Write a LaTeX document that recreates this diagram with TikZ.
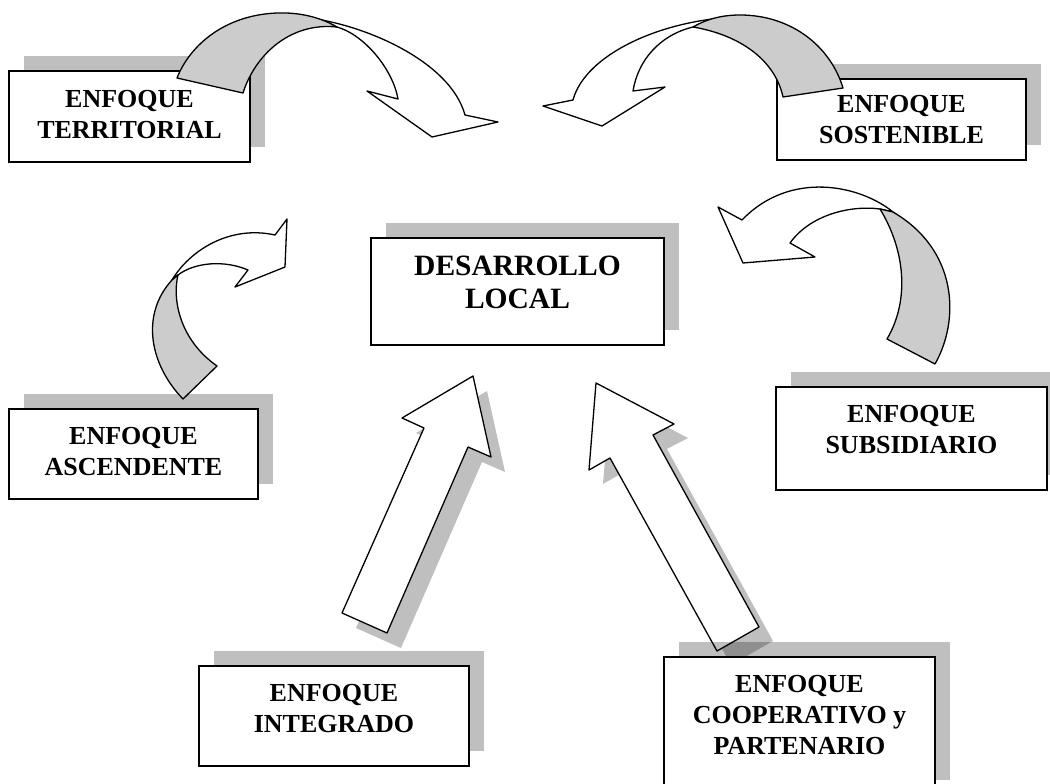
\documentclass[tikz,border=0pt]{standalone}
\usepackage{fontspec}
\setmainfont{Liberation Serif}
\usetikzlibrary{shadows}

\begin{document}
\begin{tikzpicture}[x=1pt,y=-1pt,
	caja/.style={draw,fill=white,line width=1.5pt,align=center,
		font=\fontsize{26}{31}\selectfont\bfseries,
		drop shadow={shadow xshift=15pt,shadow yshift=15pt,fill=black,opacity=.25}},
	sombra/.style={fill=black,opacity=.25},
	cara/.style={draw,fill=white,line width=1.3pt,line join=round},
	dorso/.style={draw,fill=gray!40,line width=1.3pt,line join=round}]
	\useasboundingbox (0,0) rectangle (1050,784);
	\clip (0,0) rectangle (1050,784);
	% flechas rectas
	\fill [sombra,shift={(14,15)}] (342,613) -- (424,428) -- (402,418) -- (473,376) -- (491,457) -- (468,447) -- (387,633) -- cycle;
	\draw [cara] (342,613) -- (424,428) -- (402,418) -- (473,376) -- (491,457) -- (468,447) -- (387,633) -- cycle;
	\fill [sombra,shift={(14,14)}] (717,651) -- (610,458) -- (589,470) -- (596,383) -- (674,424) -- (653,435) -- (759,627) -- cycle;
	\draw [cara] (717,651) -- (610,458) -- (589,470) -- (596,383) -- (674,424) -- (653,435) -- (759,627) -- cycle;
	% cajas
	\node [caja,minimum width=241pt,minimum height=91pt,text depth=5pt] (terr) at (129.5,116.5) {ENFOQUE\\TERRITORIAL};
	\node [caja,minimum width=249pt,minimum height=81pt] (sost) at (901.5,119.5) {ENFOQUE\\SOSTENIBLE};
	\node [caja,minimum width=293pt,minimum height=107pt,text depth=18pt,font=\fontsize{29.5}{33}\selectfont\bfseries] (desa) at (517.5,291.5) {DESARROLLO\\LOCAL};
	\node [caja,minimum width=249pt,minimum height=90pt,text depth=6pt] (asce) at (133.5,454) {ENFOQUE\\ASCENDENTE};
	\node [caja,minimum width=271pt,minimum height=103pt,text depth=18pt] (subs) at (911.5,438.5) {ENFOQUE\\SUBSIDIARIO};
	\node [caja,minimum width=270pt,minimum height=100pt,text depth=16pt] (inte) at (334,716) {ENFOQUE\\INTEGRADO};
	\node [caja,minimum width=271pt,minimum height=138pt,text depth=22pt] (coop) at (799.5,726) {ENFOQUE\\COOPERATIVO y\\PARTENARIO};
	% flechas curvas
	\draw [cara] (300,17) .. controls (360,22) and (450,60) .. (465,115) -- (498,122) -- (432,137) -- (367,91) -- (398,99) .. controls (393,70) and (365,35) .. (337,27) -- cycle;
	\draw [dorso] (177,78) .. controls (190,45) and (225,15) .. (277,13) .. controls (305,12) and (325,20) .. (337,27) .. controls (290,22) and (255,55) .. (243,93) -- cycle;
	\draw [cara] (737,17) .. controls (660,20) and (585,55) .. (573,100) -- (543,106) -- (602,126) -- (665,87) -- (633,91) .. controls (638,60) and (660,35) .. (693,27) -- cycle;
	\draw [dorso] (843,88) .. controls (830,45) and (790,15) .. (740,15) .. controls (720,15) and (705,20) .. (693,27) .. controls (740,35) and (775,60) .. (783,97) -- cycle;
	\draw [cara] (172,280) .. controls (190,250) and (230,225) .. (275,235) -- (287,219) -- (285,267) -- (235,287) -- (248,270) .. controls (225,260) and (195,262) .. (178,275) -- cycle;
	\draw [dorso] (183,399) .. controls (150,365) and (140,315) .. (172,280) -- (178,275) .. controls (172,300) and (180,340) .. (217,366) -- cycle;
	\draw [cara] (893,212) .. controls (860,185) and (790,170) .. (742,220) -- (718,207) -- (743,263) -- (815,257) -- (790,243) .. controls (810,215) and (850,205) .. (880,209) -- cycle;
	\draw [dorso] (935,364) .. controls (960,320) and (958,250) .. (893,212) -- (880,209) .. controls (905,250) and (910,300) .. (887,339) -- cycle;
\end{tikzpicture}
\end{document}
